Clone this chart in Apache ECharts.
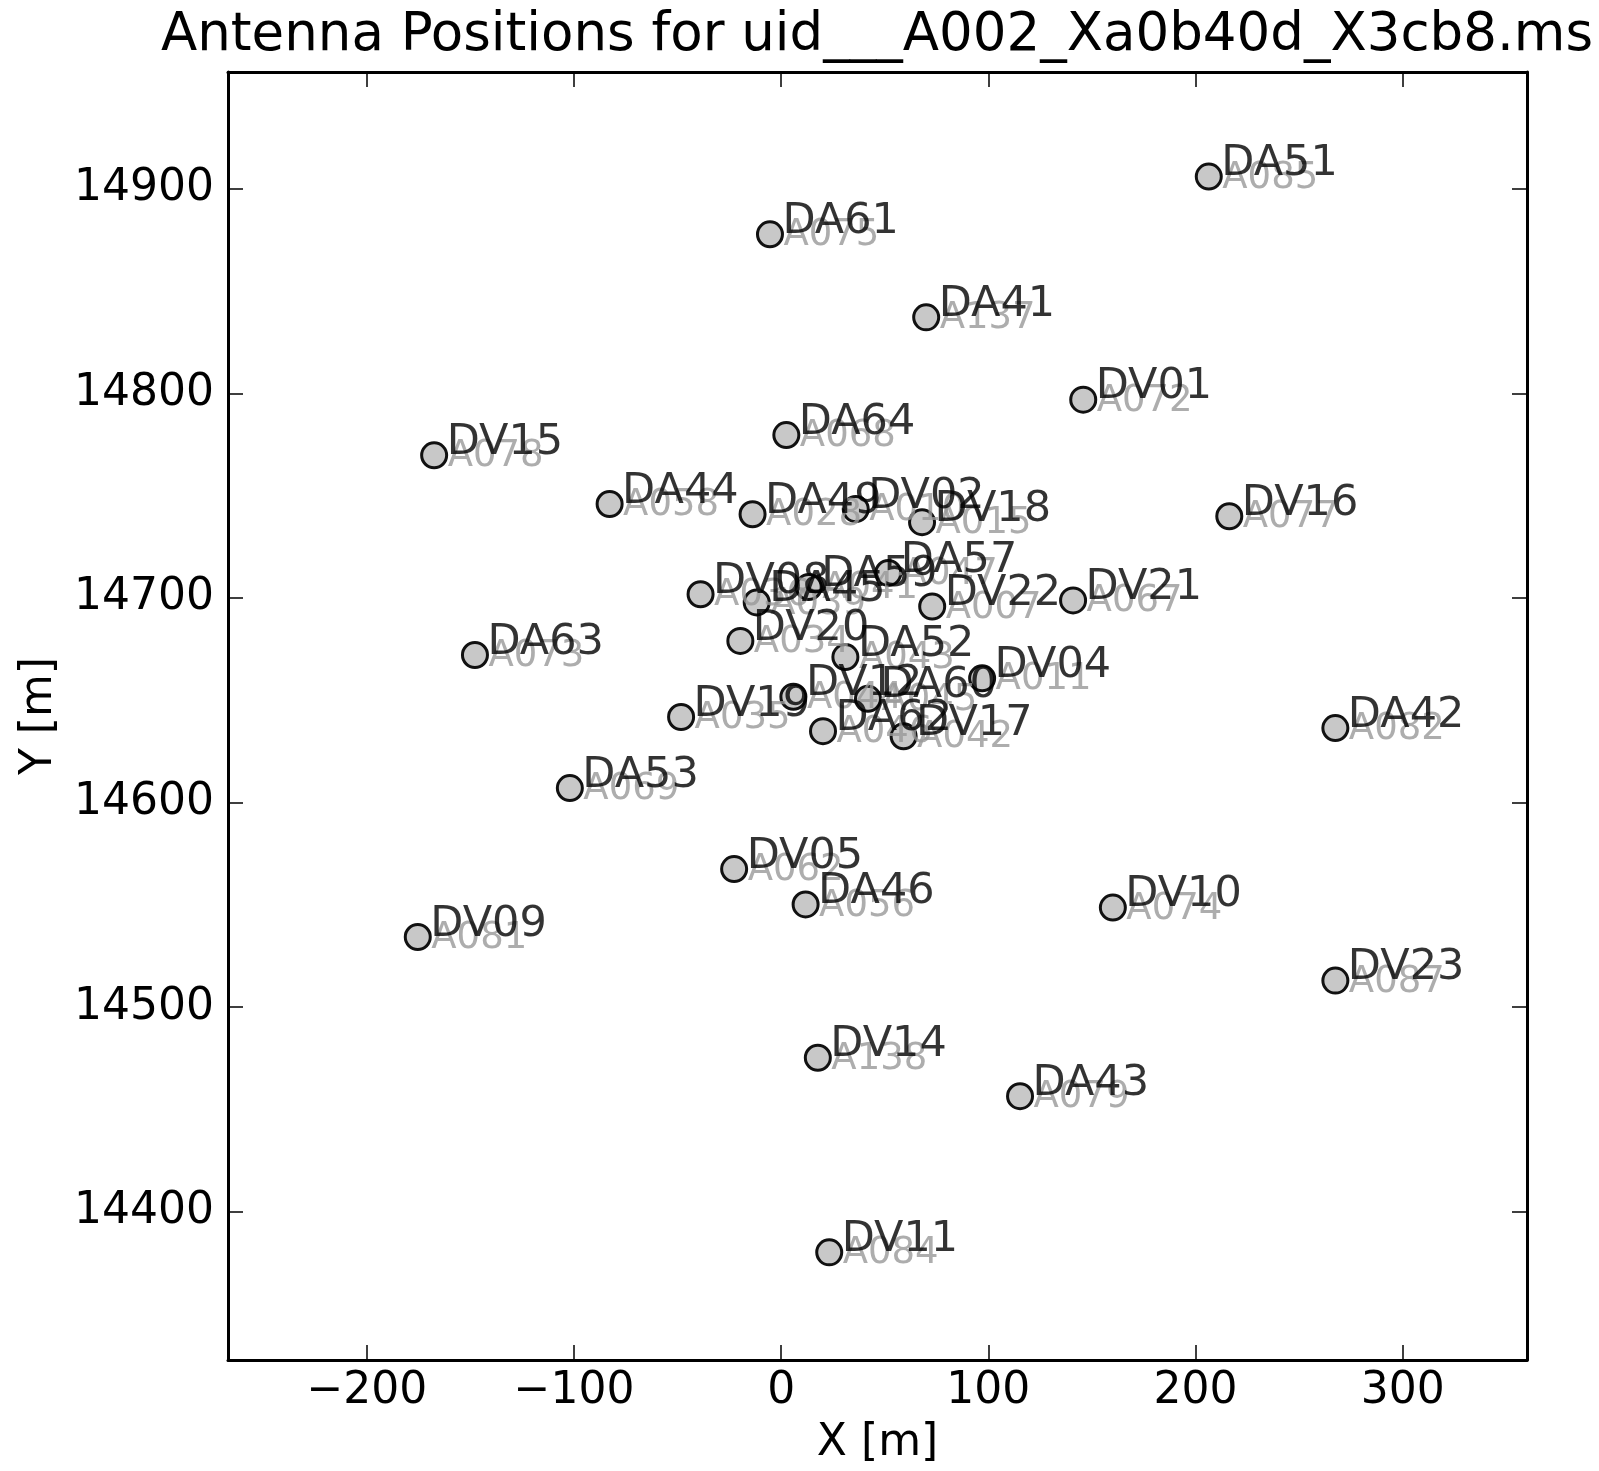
<!DOCTYPE html>
<html><head><meta charset="utf-8">
<script src="https://cdn.jsdelivr.net/npm/echarts@6/dist/echarts.min.js"></script>
<style>html,body{margin:0;padding:0;background:#fff}#c{width:1599px;height:1471px}</style>
</head><body><div id="c"></div>
<script>
const antennaNames = ['DA51','DA61','DA41','DV01','DA64','DV15','DA44','DA49','DV02','DV18','DV16','DA57','DV08','DA45','DA59','DV22','DV21','DA63','DV20','DA52','DV04','DA60','DV12','DV19','DA62','DV17','DA42','DA53','DV05','DA46','DV10','DV09','DV23','DV14','DA43','DV11'];
const padNames = ['A085','A075','A137','A072','A068','A078','A058','A028','A010','A015','A077','A047','A036','A039','A041','A007','A067','A073','A034','A043','A011','A045','A044','A035','A046','A042','A082','A069','A062','A056','A074','A081','A087','A138','A079','A084'];
const xValues = [206.4,-5.4,70.0,145.8,2.5,-167.5,-82.8,-13.8,36.0,68.0,216.3,51.7,-38.9,-11.8,13.3,72.9,140.9,-147.8,-19.7,31.0,97.0,41.9,5.9,-48.3,20.2,59.1,267.5,-102.0,-22.7,11.8,160.1,-175.4,267.5,17.7,115.3,23.2];
const yValues = [14905.9,14877.7,14837.1,14796.9,14779.6,14769.7,14745.9,14740.9,14743.4,14737.0,14739.9,14712.2,14701.8,14697.8,14705.3,14695.8,14698.8,14672.1,14679.0,14671.1,14660.7,14650.7,14651.7,14641.8,14634.9,14632.4,14636.4,14607.1,14567.5,14550.2,14548.7,14534.3,14513.0,14475.3,14456.5,14380.2];
const xTicks = [-200,-100,0,100,200,300];
const yTicks = [14400,14500,14600,14700,14800,14900];
const xRange = [-267, 360];
const yRange = [14327.6, 14957];
const titleText = 'Antenna Positions for uid___A002_Xa0b40d_X3cb8.ms';

const FONT = 'DejaVu Sans';
const fmt = v => (v < 0 ? '\u2212' : '') + Math.abs(v);
const pts = (names) => xValues.map((x, i) => ({ value: [x, yValues[i]], name: names[i] }));

function axisCommon(pos, showLabel, ticks) {
  const isX = pos === 'bottom' || pos === 'top';
  return {
    type: 'value', position: pos,
    min: isX ? xRange[0] : yRange[0],
    max: isX ? xRange[1] : yRange[1],
    splitLine: { show: false },
    axisLine: { show: true, onZero: false, lineStyle: { color: '#000', width: 3 } },
    axisTick: { show: true, inside: true, length: 15, customValues: ticks, lineStyle: { color: '#000', width: 1.5 } },
    axisLabel: { show: showLabel, customValues: ticks, formatter: fmt, fontFamily: FONT, fontSize: 44, color: '#000' }
  };
}

const chart = echarts.init(document.getElementById('c'), null, { renderer: 'canvas' });
const xb = axisCommon('bottom', true, xTicks);
xb.axisLabel.margin = 10;
xb.name = 'X [m]'; xb.nameLocation = 'middle'; xb.nameGap = 62;
xb.nameTextStyle = { fontFamily: FONT, fontSize: 44, color: '#000', verticalAlign: 'top' };
const xt = axisCommon('top', false, xTicks);
const yl = axisCommon('left', true, yTicks);
yl.axisLabel.margin = 14;
yl.name = 'Y [m]'; yl.nameLocation = 'middle'; yl.nameGap = 166;
yl.nameTextStyle = { fontFamily: FONT, fontSize: 44, color: '#000' };
const yr = axisCommon('right', false, yTicks);

chart.setOption({
  animation: false,
  backgroundColor: '#fff',
  title: { text: titleText, left: 872, textAlign: 'center', top: 5,
    textStyle: { fontFamily: FONT, fontSize: 53, fontWeight: 'normal', color: '#000' } },
  grid: { left: 228, right: 72, top: 72, bottom: 101, containLabel: false, show: false },
  xAxis: [xb, xt],
  yAxis: [yl, yr],
  series: [
    { type: 'scatter', xAxisIndex: 0, yAxisIndex: 0, data: pts(antennaNames), symbol: 'circle', symbolSize: 25,
      itemStyle: { color: '#c8c8c8', borderColor: '#111', borderWidth: 3, opacity: 1 },
      emphasis: { disabled: true }, z: 2 },
    { type: 'scatter', xAxisIndex: 0, yAxisIndex: 0, data: pts(padNames), symbolSize: 1,
      itemStyle: { color: 'rgba(0,0,0,0)', borderWidth: 0 },
      label: { show: true, formatter: '{b}', position: [14, 2], align: 'left', verticalAlign: 'middle',
        fontFamily: FONT, fontSize: 37, color: '#999' },
      emphasis: { disabled: true }, z: 3 },
    { type: 'scatter', xAxisIndex: 0, yAxisIndex: 0, data: pts(antennaNames), symbolSize: 1,
      itemStyle: { color: 'rgba(0,0,0,0)', borderWidth: 0 },
      label: { show: true, formatter: '{b}', position: [13, -12], align: 'left', verticalAlign: 'middle',
        fontFamily: FONT, fontSize: 43, color: '#000' },
      emphasis: { disabled: true }, z: 4 }
  ]
});
</script></body></html>
